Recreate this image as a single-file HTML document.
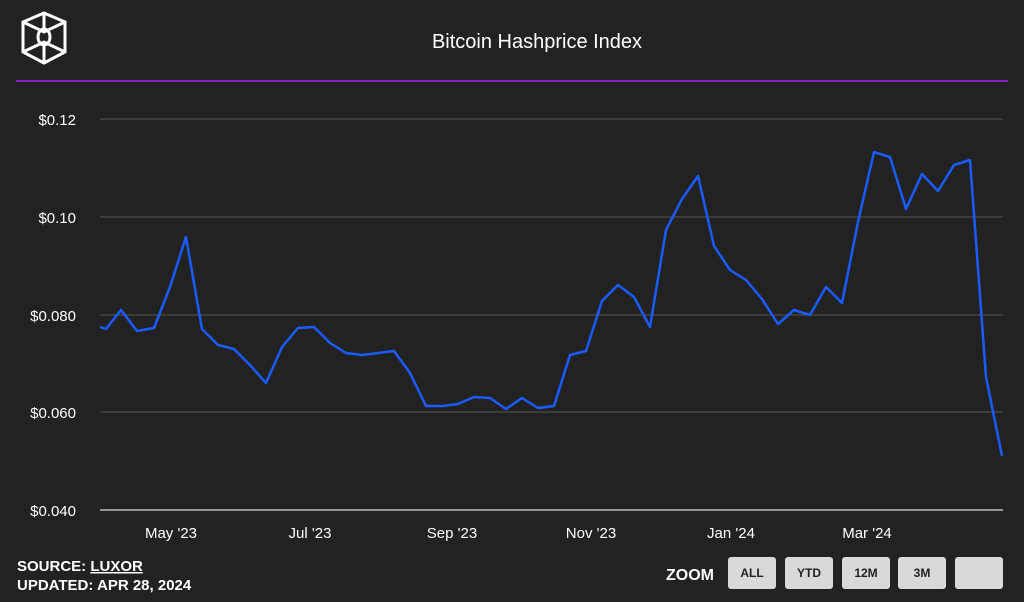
<!DOCTYPE html>
<html><head><meta charset="utf-8"><style>
html,body{margin:0;padding:0;background:#222;}
body{width:1024px;height:602px;overflow:hidden;position:relative;font-family:"Liberation Sans",sans-serif;}
.btn{position:absolute;top:557px;width:48px;height:32px;background:#d9d9d9;border-radius:3px;color:#222;font-size:12px;font-weight:bold;text-align:center;line-height:33px;}
</style></head><body>
<svg width="1024" height="602" style="position:absolute;left:0;top:0">
<g fill="none" stroke="#fff" stroke-width="3">
<polygon points="23,22 44,13 65,22 65,52 44,63 23,52"/>
<path d="M23,22 L44,32 L65,22 M23,52 L44,42 L65,52 M44,13 L44,32 M44,42 L44,63"/>
<ellipse cx="44" cy="37" rx="6" ry="8"/>
</g>
<text x="537" y="48" fill="#fff" font-size="20" text-anchor="middle">Bitcoin Hashprice Index</text>
<line x1="16" y1="81" x2="1008" y2="81" stroke="#8a1ec8" stroke-width="2"/>
<g stroke="#555" stroke-width="1">
<line x1="100" y1="119" x2="1003" y2="119"/><line x1="100" y1="217" x2="1003" y2="217"/>
<line x1="100" y1="315" x2="1003" y2="315"/><line x1="100" y1="412" x2="1003" y2="412"/>
</g>
<line x1="100" y1="510" x2="1003" y2="510" stroke="#bbb" stroke-width="1.5"/>
<g fill="#fff" font-size="15" text-anchor="end">
<text x="76" y="125">$0.12</text><text x="76" y="223">$0.10</text><text x="76" y="321">$0.080</text>
<text x="76" y="418">$0.060</text><text x="76" y="516">$0.040</text>
</g>
<g fill="#fff" font-size="15" text-anchor="middle">
<text x="171" y="538">May '23</text><text x="310" y="538">Jul '23</text><text x="452" y="538">Sep '23</text>
<text x="591" y="538">Nov '23</text><text x="731" y="538">Jan '24</text><text x="867" y="538">Mar '24</text>
</g>
<polyline fill="none" stroke="#1a5cff" stroke-width="2.5" stroke-linejoin="round" points="100,327 106,329 121,310 137,331 154,328 170,287 186,237 202,329 218,345 234,349 250,365 266,383 282,347 298,328 314,327 330,343 346,353 362,355 378,353 394,351 410,373 426,406 442,406 458,404 474,397 490,398 506,409 522,398 538,408 554,406 570,355 586,351 602,301 618,285 634,297 650,327 666,230 682,199 698,176 714,246 730,270 746,280 762,299 778,324 794,310 810,315 826,287 842,303 858,222 874,152 890,157 906,209 922,174 938,191 954,165 970,160 986,377 1002,456"/>
<text x="17" y="571" fill="#fff" font-size="15" font-weight="bold">SOURCE: <tspan text-decoration="underline">LUXOR</tspan></text>
<text x="17" y="590" fill="#fff" font-size="15" font-weight="bold">UPDATED: APR 28, 2024</text>
<text x="666" y="580" fill="#fff" font-size="16" font-weight="bold">ZOOM</text>
</svg>
<div class="btn" style="left:728px">ALL</div>
<div class="btn" style="left:785px">YTD</div>
<div class="btn" style="left:842px">12M</div>
<div class="btn" style="left:898px">3M</div>
<div class="btn" style="left:955px"></div>
</body></html>
